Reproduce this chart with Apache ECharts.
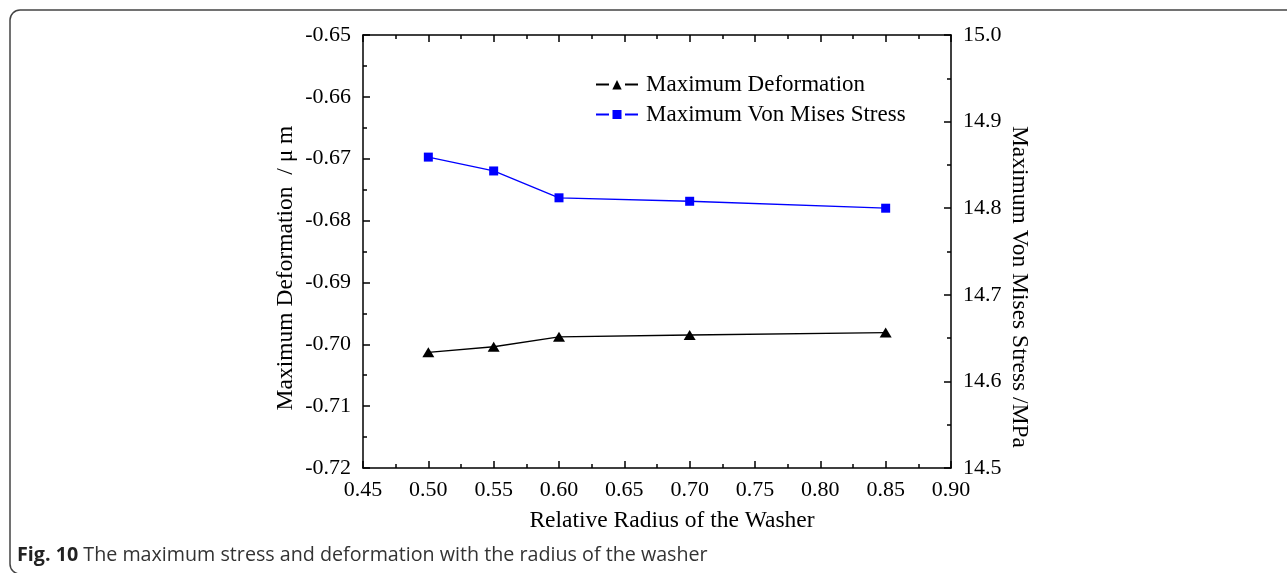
<!DOCTYPE html>
<html>
<head>
<meta charset="utf-8">
<title>Maximum stress and deformation vs. washer radius</title>
<script src="https://cdn.jsdelivr.net/npm/echarts@6/dist/echarts.min.js"></script>
<style>
  html, body { margin: 0; padding: 0; background: #fff; }
  #chart { width: 1287px; height: 573px; }
</style>
</head>
<body>
<div id="chart"></div>
<script>
// Relative radius of the washer (x) and the two measured responses
const radius = [0.50, 0.55, 0.60, 0.70, 0.85];
const deformation = [-0.7013, -0.7004, -0.6988, -0.6985, -0.6981]; // μm, left axis
const stress = [14.859, 14.843, 14.812, 14.808, 14.800];            // MPa, right axis

// Axis ranges and tick steps
const xRange = { min: 0.45, max: 0.90, step: 0.05 };
const defRange = { min: -0.72, max: -0.65, step: 0.01 };
const stressRange = { min: 14.5, max: 15.0, step: 0.1 };

const serif = 'Liberation Serif';
const pair = (xs, ys) => xs.map((x, i) => [x, ys[i]]);

// Legend icons: line segment, marker, line segment, with small gaps between
const iconTriangle = 'path://M0,5.1h13v1.8h-13z M16.3,11L21,1.5L25.7,11z M29,5.1h13v1.8h-13z M0,0h0.01v0.01h-0.01z M0,12h0.01v-0.01h-0.01z';
const iconSquare = 'path://M0,5.1h13v1.8h-13z M16.5,1.5h9v9h-9z M29,5.1h13v1.8h-13z M0,0h0.01v0.01h-0.01z M0,12h0.01v-0.01h-0.01z';

const axisCommon = {
  axisLine: { show: true, onZero: false, lineStyle: { color: '#000', width: 1.5 } },
  axisTick: { show: true, inside: true, length: 7, lineStyle: { color: '#000', width: 1.5 } },
  minorTick: { show: true, splitNumber: 2, length: 4, lineStyle: { color: '#000', width: 1.5 } },
  splitLine: { show: false },
  axisLabel: { color: '#000', fontFamily: serif, fontSize: 22, margin: 12 }
};

const chart = echarts.init(document.getElementById('chart'), null, { renderer: 'canvas' });

chart.setOption({
  animation: false,
  backgroundColor: '#fff',
  grid: { left: 363, right: 336, top: 35, bottom: 105, containLabel: false },
  legend: {
    orient: 'vertical',
    left: 596,
    top: 73,
    padding: 0,
    itemWidth: 42,
    itemHeight: 12,
    itemGap: 7,
    textStyle: { fontFamily: serif, fontSize: 23, color: '#000', padding: [0, 0, 0, 3] },
    data: [
      { name: 'Maximum Deformation', icon: iconTriangle },
      { name: 'Maximum Von Mises Stress', icon: iconSquare }
    ]
  },
  xAxis: [
    Object.assign({}, axisCommon, {
      type: 'value', position: 'bottom',
      min: xRange.min, max: xRange.max, interval: xRange.step,
      axisLabel: Object.assign({}, axisCommon.axisLabel, {
        margin: 11, formatter: v => v.toFixed(2)
      })
    }),
    Object.assign({}, axisCommon, {
      type: 'value', position: 'top',
      min: xRange.min, max: xRange.max, interval: xRange.step,
      axisLabel: { show: false }
    })
  ],
  yAxis: [
    Object.assign({}, axisCommon, {
      type: 'value', position: 'left',
      min: defRange.min, max: defRange.max, interval: defRange.step,
      axisLabel: Object.assign({}, axisCommon.axisLabel, { formatter: v => v.toFixed(2) })
    }),
    Object.assign({}, axisCommon, {
      type: 'value', position: 'right',
      min: stressRange.min, max: stressRange.max, interval: stressRange.step,
      axisLabel: Object.assign({}, axisCommon.axisLabel, { formatter: v => v.toFixed(1) })
    })
  ],
  series: [
    {
      name: 'Maximum Deformation',
      type: 'line',
      xAxisIndex: 0, yAxisIndex: 0,
      data: pair(radius, deformation),
      symbol: 'triangle',
      symbolSize: [12, 10],
      itemStyle: { color: '#000' },
      lineStyle: { color: '#000', width: 1.3 }
    },
    {
      name: 'Maximum Von Mises Stress',
      type: 'line',
      xAxisIndex: 0, yAxisIndex: 1,
      data: pair(radius, stress),
      symbol: 'rect',
      symbolSize: 9,
      itemStyle: { color: '#0000ff' },
      lineStyle: { color: '#0000ff', width: 1.3 }
    }
  ],
  graphic: [
    // figure panel border (top and left edges with rounded corners)
    {
      type: 'rect', silent: true,
      shape: { x: 10, y: 10, width: 1300, height: 564, r: 10 },
      style: { fill: null, stroke: '#444', lineWidth: 1.5 }
    },
    // axis titles
    {
      type: 'text', x: 286, y: 268, rotation: Math.PI / 2, silent: true,
      style: {
        text: 'Maximum Deformation  / \u03bc m',
        font: '23.5px "Liberation Serif"', fill: '#000',
        textAlign: 'center', textVerticalAlign: 'middle'
      }
    },
    {
      type: 'text', x: 1019, y: 287, rotation: -Math.PI / 2, silent: true,
      style: {
        text: 'Maximum Von Mises Stress /MPa',
        font: '23.5px "Liberation Serif"', fill: '#000',
        textAlign: 'center', textVerticalAlign: 'middle'
      }
    },
    {
      type: 'text', x: 672, y: 521, silent: true,
      style: {
        text: 'Relative Radius of the Washer',
        font: '23.5px "Liberation Serif"', fill: '#000',
        textAlign: 'center', textVerticalAlign: 'middle'
      }
    },
    // figure caption
    {
      type: 'text', x: 17, y: 555, silent: true,
      style: {
        text: '{b|Fig. 10} The maximum stress and deformation with the radius of the washer',
        font: '19.7px "Open Sans"', fill: '#333',
        textVerticalAlign: 'middle',
        rich: {
          b: { font: 'bold 19.7px "Open Sans"', fill: '#222' }
        }
      }
    }
  ]
});
</script>
</body>
</html>
